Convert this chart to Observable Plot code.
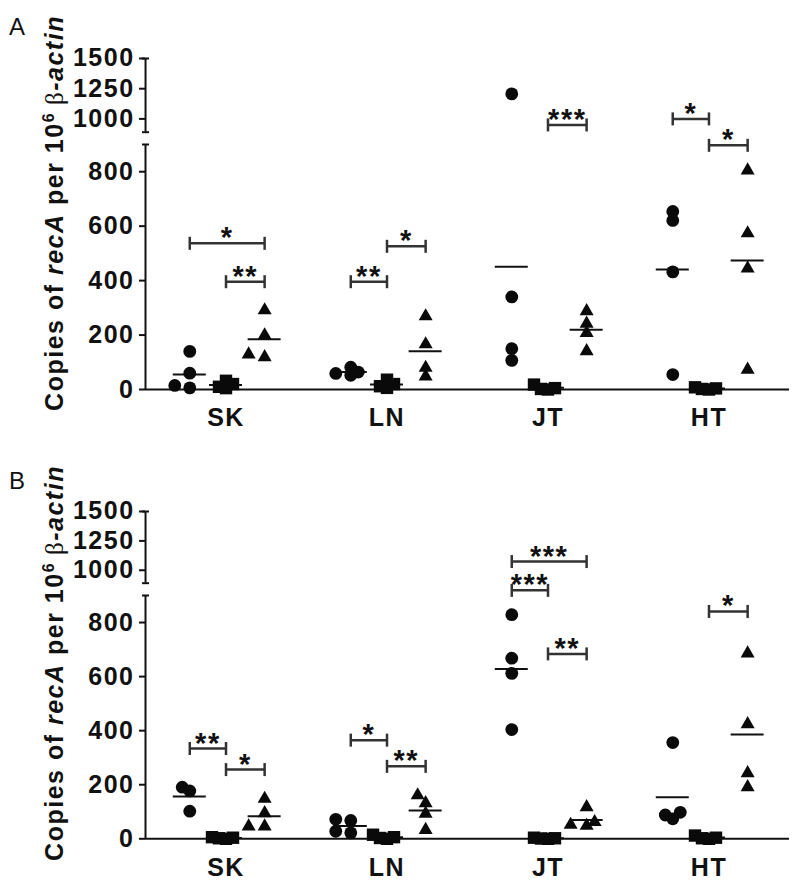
<!DOCTYPE html>
<html><head><meta charset="utf-8">
<script src="https://cdn.jsdelivr.net/npm/d3@7"></script>
<script src="https://cdn.jsdelivr.net/npm/@observablehq/plot@0.6"></script>
<style>
html,body{margin:0;padding:0;background:#fff;}
#root{position:relative;width:800px;height:891px;overflow:hidden;font-family:"Liberation Sans",Arial,sans-serif;color:#111;}
.panel-label{position:absolute;font-size:24px;line-height:24px;}
.ytitle{position:absolute;white-space:nowrap;font-size:25px;font-weight:bold;letter-spacing:1.5px;transform:translate(-50%,-50%) rotate(-90deg);}
.ytitle sup{font-size:16px;vertical-align:0.55em;line-height:0;letter-spacing:0;}
.ytitle .beta{font-family:"Liberation Serif","DejaVu Serif",serif;font-weight:normal;}
.plotbox{position:absolute;left:0;}
</style></head>
<body><div id="root"></div>
<script>
// ---------- data ----------
const groups = ["SK", "LN", "JT", "HT"];
const seriesSymbols = ["circle", "square", "triangle"];
const lowerTicks = [0, 200, 400, 600, 800];
const upperTicks = [1000, 1250, 1500];
const lowerDomain = [0, 900];
const upperDomain = [890, 1500];

// Panel A (values per group: SK, LN, JT, HT)
const aCircles   = [[140, 60, 6, 15], [52, 59, 64, 82], [1207, 340, 150, 107], [654, 621, 432, 55]];
const aSquares   = [[5, 10, 20, 32], [6, 12, 20, 36], [0, 2, 5, 18], [0, 2, 4, 8]];
const aTriangles = [[291, 199, 119, 129], [269, 166, 48, 80], [288, 242, 208, 141], [805, 574, 445, 73]];
// Panel B
const bCircles   = [[191, 177, 102], [68, 72, 22, 28], [829, 668, 612, 404], [356, 98, 88, 74]];
const bSquares   = [[0, 2, 4, 6], [0, 3, 6, 15], [0, 1, 2, 4], [0, 2, 4, 12]];
const bTriangles = [[148, 95, 46, 46], [161, 132, 93, 33], [117, 62, 52, 48], [686, 424, 243, 191]];

// significance brackets: group index, from series, to series, level, stars
const aBrackets = [
  {g: 0, from: 0, to: 2, y: 537, stars: "*"},
  {g: 0, from: 1, to: 2, y: 396, stars: "**"},
  {g: 1, from: 0, to: 1, y: 396, stars: "**"},
  {g: 1, from: 1, to: 2, y: 526, stars: "*"},
  {g: 2, from: 1, to: 2, y: 950, stars: "***"},
  {g: 3, from: 0, to: 1, y: 1000, stars: "*"},
  {g: 3, from: 1, to: 2, y: 897, stars: "*"}
];
const bBrackets = [
  {g: 0, from: 0, to: 1, y: 334, stars: "**"},
  {g: 0, from: 1, to: 2, y: 256, stars: "*"},
  {g: 1, from: 0, to: 1, y: 365, stars: "*"},
  {g: 1, from: 1, to: 2, y: 268, stars: "**"},
  {g: 2, from: 0, to: 2, y: 1074, stars: "***"},
  {g: 2, from: 0, to: 1, y: 919, stars: "***"},
  {g: 2, from: 1, to: 2, y: 684, stars: "**"},
  {g: 3, from: 1, to: 2, y: 841, stars: "*"}
];

// ---------- layout ----------
const W = 800, ML = 145, MR = 11;
const xDomain = [-0.5, 3.5];
const colOffset = [-0.225, 0, 0.24];
const X_PX = (W - ML - MR) / (xDomain[1] - xDomain[0]);
const symR = {circle: 6.4, square: 7, triangle: 5.2};
const spread = {circle: {step: 7.5, min: 8}, square: {step: 7, min: 7}, triangle: {step: 8, min: 8.5}};

const panels = [
  {label: "A", labelTop: 14.5, upperTop: 58, upperBottom: 131.7, lowerTop: 144, zero: 389, titleY: 213,
   series: [aCircles, aSquares, aTriangles], brackets: aBrackets},
  {label: "B", labelTop: 468.5, upperTop: 511, upperBottom: 582.7, lowerTop: 595, zero: 838.3, titleY: 663,
   series: [bCircles, bSquares, bTriangles], brackets: bBrackets}
];

const vtick = {draw(ctx) { ctx.moveTo(0, -6.5); ctx.lineTo(0, 6.5); }};
const hcap = {draw(ctx) { ctx.moveTo(-3.5, 0); ctx.lineTo(3.5, 0); }};

const root = document.getElementById("root");

function toPx(p, v) {
  if (v > lowerDomain[1]) {
    return p.upperBottom + (v - upperDomain[0]) / (upperDomain[1] - upperDomain[0]) * (p.upperTop - p.upperBottom);
  }
  return p.zero + (v - lowerDomain[0]) / (lowerDomain[1] - lowerDomain[0]) * (p.lowerTop - p.zero);
}

function buildPoints(p) {
  const pts = [], means = [];
  p.series.forEach((arr, si) => {
    const s = seriesSymbols[si];
    const {step, min} = spread[s];
    arr.forEach((vals, gi) => {
      const colX = gi + colOffset[si];
      means.push({x: colX, v: d3.mean(vals)});
      const placed = [];
      const order = vals.map((v, i) => i).sort((a, b) => vals[a] - vals[b]);
      for (const i of order) {
        const v = vals[i];
        const py = toPx(p, v);
        let ox = 0;
        for (const k of [0, -1, 1, -2, 2, -3, 3, -4, 4]) {
          const c = k * step;
          if (placed.every(q => Math.hypot(c - q.ox, py - q.py) >= min)) { ox = c; break; }
        }
        placed.push({ox, py});
        pts.push({v, x: colX + ox / X_PX, s});
      }
    });
  });
  return {pts, means};
}

const svgStyle = "overflow: visible; background: transparent; font-family: 'Liberation Sans', Arial, sans-serif; font-size: 25px; font-weight: bold; letter-spacing: 1.5px; color: #111;";

function segment(p, which, pts, means, brackets) {
  const upper = which === "upper";
  const domain = upper ? upperDomain : lowerDomain;
  const topPx = upper ? p.upperTop : p.lowerTop;
  const botPx = upper ? p.upperBottom : p.zero;
  const marginTop = upper ? 12 : 14;
  const marginBottom = upper ? 4 : 50;
  const svgTop = topPx - marginTop;
  const height = botPx - svgTop + marginBottom;
  const inSeg = d => upper ? d.v > lowerDomain[1] : d.v <= lowerDomain[1];
  const segPts = pts.filter(inSeg);
  const segMeans = means.filter(inSeg);
  const segBr = brackets.filter(b => upper ? b.y >= 930 : b.y < 930).map(b => ({
    x1: b.g + colOffset[b.from], x2: b.g + colOffset[b.to], y: b.y, stars: b.stars
  }));
  const ends = segBr.flatMap(b => [{x: b.x1, y: b.y}, {x: b.x2, y: b.y}]);

  const marks = [
    Plot.axisY({ticks: upper ? upperTicks : lowerTicks, tickFormat: d3.format("d"), tickSize: 6, tickPadding: 5, strokeWidth: 2, label: null}),
    Plot.ruleX([xDomain[0]], {y1: domain[0], y2: domain[1], strokeWidth: 2, stroke: "#111"}),
    Plot.dot(upper ? domain : [domain[1]], {x: () => xDomain[0], y: d => d, symbol: hcap, stroke: "#111", strokeWidth: 2, fill: "none"}),
    Plot.ruleY(segMeans, {y: "v", x1: d => d.x - 0.1025, x2: d => d.x + 0.1025, stroke: "#111", strokeWidth: 2}),
    ...seriesSymbols.map(s => Plot.dot(segPts.filter(d => d.s === s), {x: "x", y: "v", symbol: s, r: symR[s], fill: "#0a0a0a", stroke: "none"})),
    Plot.ruleY(segBr, {y: "y", x1: "x1", x2: "x2", stroke: "#333", strokeWidth: 2.5}),
    Plot.dot(ends, {x: "x", y: "y", symbol: vtick, stroke: "#333", strokeWidth: 2.5, fill: "none"}),
    Plot.text(segBr, {x: d => (d.x1 + d.x2) / 2, y: "y", text: "stars", fontSize: 29, fontWeight: "bold", lineAnchor: "bottom", dy: 4, fill: "#111"})
  ];
  if (!upper) {
    marks.splice(1, 0,
      Plot.ruleY([0], {stroke: "#111", strokeWidth: 2}),
      Plot.axisX({ticks: [0, 1, 2, 3], tickFormat: i => groups[i], tickSize: 0, tickPadding: 19, label: null})
    );
  }
  const svg = Plot.plot({
    width: W, height, marginLeft: ML, marginRight: MR, marginTop, marginBottom,
    x: upper ? {domain: xDomain, axis: null} : {domain: xDomain},
    y: {domain},
    style: svgStyle,
    marks
  });
  const box = document.createElement("div");
  box.className = "plotbox";
  box.style.top = svgTop + "px";
  box.appendChild(svg);
  root.appendChild(box);
}

for (const p of panels) {
  const lab = document.createElement("div");
  lab.className = "panel-label";
  lab.style.left = "9px";
  lab.style.top = p.labelTop + "px";
  lab.textContent = p.label;
  root.appendChild(lab);

  const t = document.createElement("div");
  t.className = "ytitle";
  t.style.left = "54px";
  t.style.top = p.titleY + "px";
  t.innerHTML = 'Copies of <i>recA</i> per 10<sup>6</sup> <span class="beta">β</span><i>-actin</i>';
  root.appendChild(t);

  const {pts, means} = buildPoints(p);
  segment(p, "upper", pts, means, p.brackets);
  segment(p, "lower", pts, means, p.brackets);
}
</script>
</body></html>
